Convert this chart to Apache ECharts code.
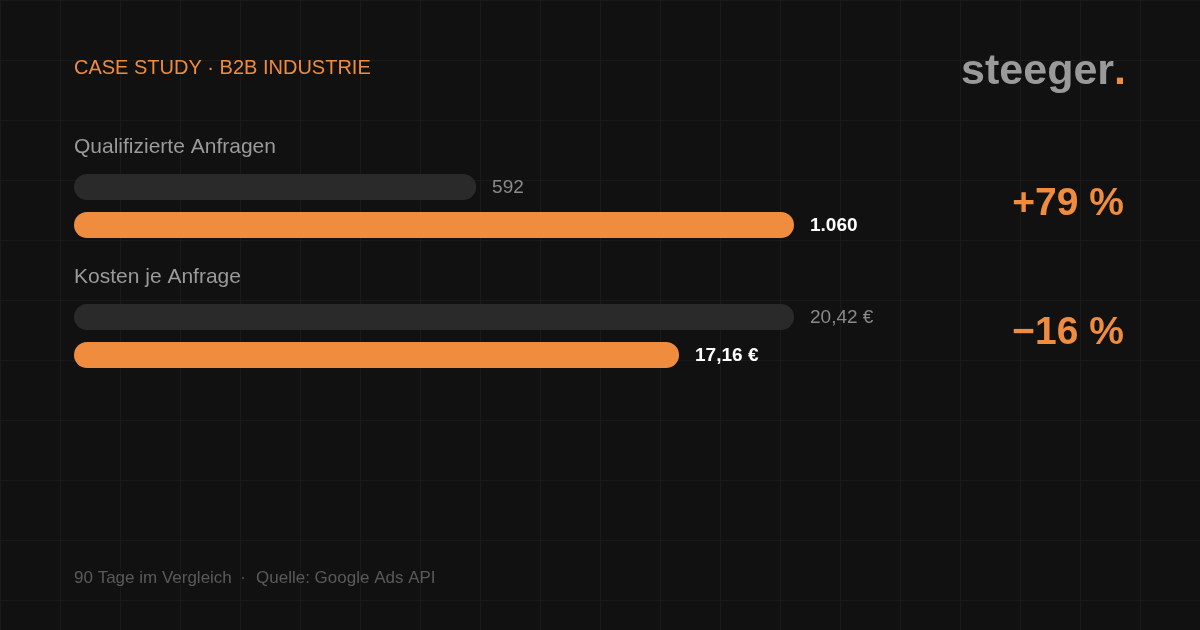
<!DOCTYPE html>
<html>
<head>
<meta charset="utf-8">
<style>
  html, body { margin: 0; padding: 0; background: #111111; }
  #main { width: 1200px; height: 630px; }
</style>
<script src="https://cdn.jsdelivr.net/npm/echarts@6/dist/echarts.min.js"></script>
</head>
<body>
<div id="main"></div>
<script>
var metrics = ['Qualifizierte Anfragen', 'Kosten je Anfrage'];
var periods = ['Vorher', 'Nachher'];
var leadsValues = [592, 1060];
var costValues = [20.42, 17.16];
var units = ['', ' €'];
var decimals = [0, 2];

var orange = '#f08c3e';
var barGrey = '#2a2a2a';
var font = 'Liberation Sans, Arial, sans-serif';

// 1.060 / 20,42 style
function fmt(v, d, unit) {
    var parts = v.toFixed(d).split('.');
    var intPart = parts[0].replace(/\B(?=(\d{3})+(?!\d))/g, '.');
    return intPart + (parts[1] ? ',' + parts[1] : '') + unit;
}
function change(arr) {
    var p = Math.round((arr[1] - arr[0]) / arr[0] * 100);
    return (p >= 0 ? '+' : '\u2212') + Math.abs(p) + ' %';
}

function barData(values) {
    return values.map(function (v, k) {
        var after = k === 1;
        return {
            value: v,
            itemStyle: { color: after ? orange : barGrey },
            label: {
                color: after ? '#ffffff' : '#8a8a8a',
                fontWeight: after ? 'bold' : 'normal'
            }
        };
    });
}

var groups = [leadsValues, costValues];
var grids = [], xAxes = [], yAxes = [], series = [];

// background raster
var rasterLine = { lineStyle: { color: '#1a1a1a', width: 1 } };
grids.push({ left: 0, right: 0, top: 0, bottom: 0 });
xAxes.push({ type: 'value', gridIndex: 0, min: 0, max: 1200, interval: 60,
    axisLine: { show: false }, axisTick: { show: false }, axisLabel: { show: false },
    splitLine: rasterLine });
yAxes.push({ type: 'value', gridIndex: 0, min: 0, max: 630, interval: 60, inverse: true,
    axisLine: { show: false }, axisTick: { show: false }, axisLabel: { show: false },
    splitLine: rasterLine });

groups.forEach(function (vals, i) {
    var gi = i + 1;
    grids.push({ left: 74, width: 720, top: 168 + i * 130, height: 76 });
    xAxes.push({ type: 'value', gridIndex: gi, min: 0, max: Math.max.apply(null, vals), show: false });
    yAxes.push({ type: 'category', gridIndex: gi, data: periods, inverse: true, show: false });
    series.push({
        type: 'bar',
        xAxisIndex: gi,
        yAxisIndex: gi,
        barWidth: 26,
        silent: true,
        z: 5,
        itemStyle: { borderRadius: 13 },
        label: {
            show: true,
            position: 'right',
            distance: 16,
            offset: [0, 1],
            fontSize: 19,
            fontFamily: font,
            formatter: function (p) { return fmt(p.value, decimals[i], units[i]); }
        },
        data: barData(vals)
    });
});

function txt(x, y, str, fill, f, align) {
    return { type: 'text', x: x, y: y, z: 100,
        style: { text: str, fill: fill, font: f, textAlign: align || 'left', textVerticalAlign: 'middle' } };
}

var texts = [
    txt(74, 68, 'CASE STUDY \u00b7 B2B INDUSTRIE', orange, '20px ' + font),
    { type: 'text', x: 1126, y: 72, z: 100,
      style: { text: '{a|steeger}{b|.}', textAlign: 'right', textVerticalAlign: 'middle',
        rich: { a: { fill: '#9a9a9a', font: 'bold 43px ' + font }, b: { fill: orange, font: 'bold 43px ' + font } } } },
    txt(74, 147, metrics[0], '#9a9a9a', '21px ' + font),
    txt(74, 277, metrics[1], '#9a9a9a', '21px ' + font),
    txt(1124, 204, change(leadsValues), orange, 'bold 39px ' + font, 'right'),
    txt(1124, 333, change(costValues), orange, 'bold 39px ' + font, 'right'),
    txt(74, 578, '90 Tage im Vergleich', '#5a5a5a', '17px ' + font),
    txt(243, 578, '\u00b7', '#5a5a5a', '17px ' + font, 'center'),
    txt(256, 578, 'Quelle: Google Ads API', '#5a5a5a', '17px ' + font)
];

var myChart = echarts.init(document.getElementById('main'));
myChart.setOption({
    backgroundColor: '#111111',
    animation: false,
    grid: grids,
    xAxis: xAxes,
    yAxis: yAxes,
    series: series,
    graphic: texts
});
</script>
</body>
</html>
